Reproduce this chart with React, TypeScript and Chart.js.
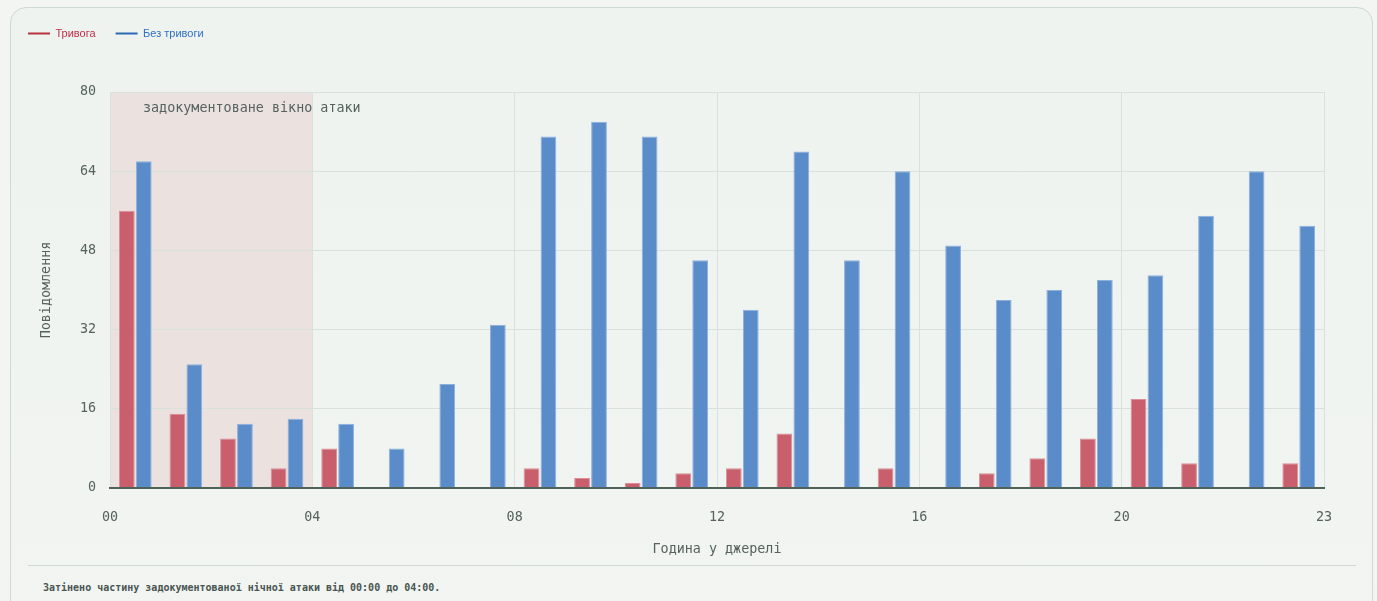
import { useEffect, useRef } from 'react';
import { Chart, registerables } from 'chart.js';

Chart.register(...registerables);

// hours 00..23, message counts per hour of the source
const hours = [
  0, 1, 2, 3, 4, 5, 6, 7, 8, 9, 10, 11,
  12, 13, 14, 15, 16, 17, 18, 19, 20, 21, 22, 23,
];
const alarmCounts = [
  56, 15, 10, 4, 8, 0, 0, 0, 4, 2, 1, 3,
  4, 11, 0, 4, 0, 3, 6, 10, 18, 5, 0, 5,
];
const noAlarmCounts = [
  66, 25, 13, 14, 13, 8, 21, 33, 71, 74, 71, 46,
  36, 68, 46, 64, 49, 38, 40, 42, 43, 55, 64, 53,
];
const xTickLabels = ['00', '04', '08', '12', '16', '20', '23'];
const seriesNames = ['Тривога', 'Без тривоги'];
const attackWindow = [0, 4];

const MONO = '"DejaVu Sans Mono", monospace';
const MONO_SIZE = 13.4;
const TEXT = '#56625e';
const GRID = '#d9e1dc';

const shadePlugin = {
  id: 'attackShade',
  beforeDraw(chart: any) {
    const { ctx, chartArea, scales } = chart;
    const x0 = scales.x.getPixelForValue(attackWindow[0]);
    const x1 = scales.x.getPixelForValue(attackWindow[1]);
    ctx.save();
    ctx.fillStyle = '#ebe2e0';
    ctx.fillRect(x0, chartArea.top, x1 - x0, chartArea.bottom - chartArea.top);
    ctx.restore();
  },
  afterDatasetsDraw(chart: any) {
    const { ctx, chartArea } = chart;
    ctx.save();
    ctx.font = `${MONO_SIZE}px ${MONO}`;
    ctx.fillStyle = TEXT;
    ctx.textAlign = 'left';
    ctx.textBaseline = 'middle';
    ctx.fillText('задокументоване вікно атаки', chartArea.left + 33, chartArea.top + 17);
    ctx.restore();
  },
};

// push the plot down below the legend
const legendSpacer = {
  id: 'legendSpacer',
  beforeInit(chart: any) {
    const fit = chart.legend.fit;
    chart.legend.fit = function () {
      fit.bind(chart.legend)();
      this.height += 43;
    };
  },
};

export default function App() {
  const canvasRef = useRef<HTMLCanvasElement>(null);

  useEffect(() => {
    if (!canvasRef.current) return;
    const legendColors = [
      { line: '#b8323f', text: '#c0304c' },
      { line: '#2c68b4', text: '#2f70c2' },
    ];

    const chart = new Chart(canvasRef.current, {
      type: 'bar',
      data: {
        datasets: [
          {
            label: seriesNames[0],
            data: hours.map((h, i) => ({ x: h + 0.5, y: alarmCounts[i] })),
            backgroundColor: '#c95f6c',
            borderColor: '#da8f98',
            borderWidth: 1,
          },
          {
            label: seriesNames[1],
            data: hours.map((h, i) => ({ x: h + 0.5, y: noAlarmCounts[i] })),
            backgroundColor: '#5b8cca',
            borderColor: '#8cb0de',
            borderWidth: 1,
          },
        ],
      },
      options: {
        animation: false,
        responsive: true,
        maintainAspectRatio: false,
        categoryPercentage: 0.67,
        barPercentage: 0.93,
        layout: { padding: { left: 0, right: 32, top: 0, bottom: 0 } },
        plugins: {
          legend: {
            position: 'top',
            align: 'start',
            labels: {
              usePointStyle: true,
              pointStyleWidth: 22,
              boxHeight: 11,
              padding: 20,
              font: { family: '"Liberation Sans", Arial, sans-serif', size: 11 },
              generateLabels: () =>
                seriesNames.map((name, i) => ({
                  text: name,
                  fillStyle: legendColors[i].line,
                  strokeStyle: legendColors[i].line,
                  fontColor: legendColors[i].text,
                  lineWidth: 2,
                  pointStyle: 'line',
                  hidden: false,
                  datasetIndex: i,
                })),
            },
          },
          tooltip: { enabled: false },
        },
        scales: {
          x: {
            type: 'linear',
            min: 0,
            max: 24,
            offset: false,
            afterBuildTicks: (scale: any) => {
              scale.ticks = xTickLabels.map((_, i) => ({
                value: i === xTickLabels.length - 1 ? 24 : i * 4,
              }));
            },
            afterFit: (scale: any) => {
              scale.height = 74;
            },
            grid: { color: GRID, offset: false, drawTicks: false },
            border: { color: '#4f6258', width: 2, z: 1 },
            ticks: {
              padding: 21,
              color: TEXT,
              font: { family: MONO, size: MONO_SIZE },
              maxRotation: 0,
              callback: (_v: any, i: number) => xTickLabels[i],
            },
            title: {
              display: true,
              text: 'Година у джерелі',
              color: TEXT,
              font: { family: MONO, size: MONO_SIZE },
              padding: { top: 0, bottom: 4 },
            },
          },
          y: {
            min: 0,
            max: 80,
            grid: { color: GRID, drawTicks: false },
            border: { color: GRID },
            afterFit: (scale: any) => {
              scale.width = 102;
            },
            ticks: {
              stepSize: 16,
              padding: 14,
              color: TEXT,
              font: { family: MONO, size: MONO_SIZE },
            },
            title: {
              display: true,
              text: 'Повідомлення',
              color: TEXT,
              font: { family: MONO, size: MONO_SIZE },
              padding: { top: 30, bottom: 4 },
            },
          },
        },
      } as any,
      plugins: [shadePlugin, legendSpacer],
    });

    return () => chart.destroy();
  }, []);

  return (
    <div style={{ position: 'fixed', inset: 0, background: '#f3f5f2', overflow: 'hidden' }}>
      <div
        style={{
          position: 'absolute',
          left: 10,
          top: 7,
          width: 1363,
          height: 700,
          boxSizing: 'border-box',
          border: '1px solid #cdd9d2',
          borderRadius: 16,
          background: 'linear-gradient(180deg, #eef3ef 0%, #f2f5f2 100%)',
        }}
      />
      <div style={{ position: 'absolute', left: 8, top: 8, width: 1348, height: 554 }}>
        <canvas ref={canvasRef} />
      </div>
      <div
        style={{
          position: 'absolute',
          left: 28,
          top: 565,
          width: 1328,
          height: 1,
          background: '#cfd9d3',
        }}
      />
      <div
        style={{
          position: 'absolute',
          left: 43,
          top: 582,
          fontFamily: MONO,
          fontWeight: 'bold',
          fontSize: 10,
          lineHeight: '12px',
          color: '#4a5652',
          whiteSpace: 'nowrap',
        }}
      >
        Затінено частину задокументованої нічної атаки від 00:00 до 04:00.
      </div>
    </div>
  );
}
